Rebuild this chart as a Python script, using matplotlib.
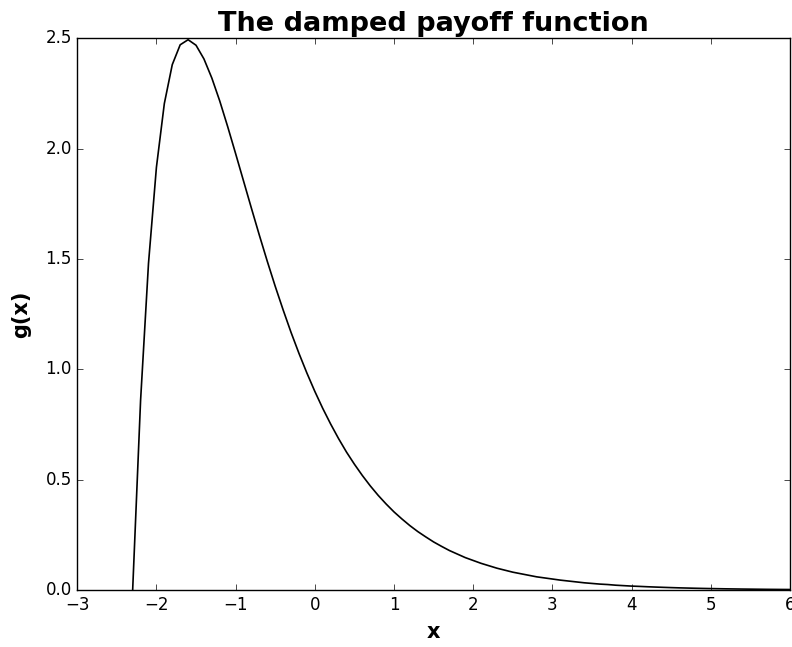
import numpy as np
import matplotlib
matplotlib.use("Agg")
from matplotlib import pyplot as plt

# sample grid of the curve, step 0.1 from -2.3 to 6.0
x_vals = np.linspace(-2.3, 6.0, 84)

# g(x) at each grid point
g_vals = [
    0.000, 0.859, 1.480, 1.915, 2.204, 2.380, 2.470, 2.493, 2.468, 2.406,
    2.319, 2.215, 2.099, 1.977, 1.853, 1.729, 1.607, 1.489, 1.376, 1.269,
    1.167, 1.072, 0.983, 0.900, 0.823, 0.752, 0.686, 0.625, 0.570, 0.519,
    0.472, 0.429, 0.390, 0.354, 0.322, 0.292, 0.265, 0.241, 0.218, 0.198,
    0.179, 0.163, 0.147, 0.134, 0.121, 0.110, 0.099, 0.090, 0.081, 0.074,
    0.067, 0.060, 0.055, 0.050, 0.045, 0.041, 0.037, 0.033, 0.030, 0.027,
    0.025, 0.022, 0.020, 0.018, 0.0166, 0.0150, 0.0136, 0.0123, 0.0111, 0.0100,
    0.0091, 0.0082, 0.0074, 0.0067, 0.0061, 0.0055, 0.0050, 0.0045, 0.0041, 0.0037,
    0.0033, 0.0030, 0.0027, 0.0025,
]

x_ticks = [-3, -2, -1, 0, 1, 2, 3, 4, 5, 6]
y_ticks = [0.0, 0.5, 1.0, 1.5, 2.0, 2.5]

plt.style.use('classic')
fig = plt.figure(figsize=(7.92, 6.47), dpi=100, facecolor='white')
ax = fig.add_axes([0.0975, 0.088, 0.9, 0.853])

ax.plot(x_vals, g_vals, color='black', linewidth=1.2)
ax.set_xlim(-3, 6)
ax.set_ylim(0, 2.5)
ax.set_xticks(x_ticks)
ax.set_yticks(y_ticks)
ax.tick_params(labelsize=12)

ax.set_title('The damped payoff function', fontsize=19.5, fontweight='bold')
ax.set_xlabel('x', fontsize=15, fontweight='bold', labelpad=6)
ax.set_ylabel('g(x)', fontsize=15, fontweight='bold', labelpad=10)

fig.savefig('out.png', dpi=100, facecolor='white')
